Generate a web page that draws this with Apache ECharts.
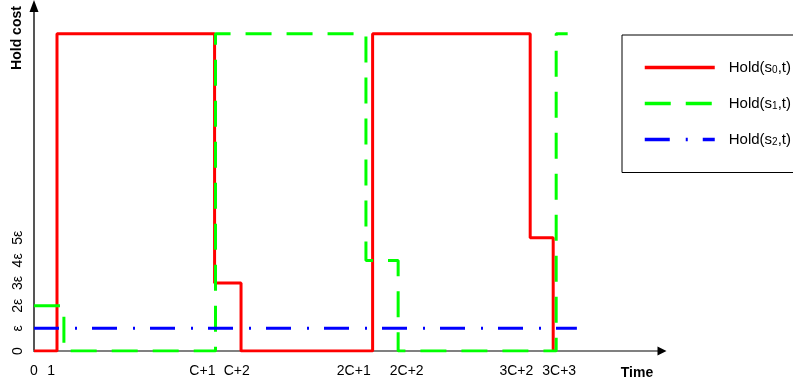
<!DOCTYPE html>
<html>
<head>
<meta charset="utf-8">
<script src="https://cdn.jsdelivr.net/npm/echarts@6/dist/echarts.min.js"></script>
<style>
  html, body { margin: 0; padding: 0; background: #fff; }
  #chart { width: 793px; height: 389px; }
</style>
</head>
<body>
<div id="chart"></div>
<script>
// Hold cost of the three states over time (cost in units of ε, time on a schematic scale)
const seriesNames = ['Hold(s0,t)', 'Hold(s1,t)', 'Hold(s2,t)'];

// change points (time) and the cost held from that point on
const s0Times = [0, 1.0, 7.85, 9.0, 14.72, 21.57, 22.57];
const s0Cost  = [0, 14, 3, 0, 14, 5, 0];

const s1Times = [0, 1.30, 7.89, 14.43, 15.83, 22.70, 23.2];
const s1Cost  = [2, 0, 14, 4, 0, 14, 14];

const s2Times = [0, 23.6];
const s2Cost  = [1, 1];

// axis labels
const xTickPositions = [0, 0.74, 7.32, 8.81, 13.9, 16.2, 20.97, 22.83];
const xTickLabels = ['0', '1', 'C+1', 'C+2', '2C+1', '2C+2', '3C+2', '3C+3'];
const yTickValues = [0, 1, 2, 3, 4, 5];
const yTickLabels = ['0', 'ε', '2ε', '3ε', '4ε', '5ε'];

const X_MAX = 27.3;
const Y_MAX = 15.23;
const FONT = '"Liberation Sans", Arial, sans-serif';

const zip = (xs, ys) => xs.map((x, i) => [x, ys[i]]);

const chart = echarts.init(document.getElementById('chart'), null, { renderer: 'canvas' });

const baseAxis = {
  type: 'value',
  splitLine: { show: false },
  axisTick: { show: false }
};

chart.setOption({
  animation: false,
  backgroundColor: '#fff',
  grid: { left: 34, right: 131, top: 6, bottom: 38, containLabel: false },
  xAxis: [
    Object.assign({}, baseAxis, {
      min: 0, max: X_MAX, position: 'bottom',
      axisLine: { show: true, onZero: false, lineStyle: { color: '#808080', width: 2 } },
      axisLabel: {
        customValues: xTickPositions,
        formatter: v => xTickLabels[xTickPositions.indexOf(v)],
        margin: 13, fontSize: 14, color: '#000', fontFamily: FONT
      }
    }),
    Object.assign({}, baseAxis, {
      min: 0, max: X_MAX, position: 'bottom',
      axisLine: { show: true, onZero: false, symbol: ['none', 'triangle'], symbolSize: [9, 9],
                  lineStyle: { color: '#000', width: 0 } },
      axisLabel: { show: false }
    })
  ],
  yAxis: [
    Object.assign({}, baseAxis, {
      min: 0, max: Y_MAX, position: 'left',
      axisLine: { show: true, onZero: false, lineStyle: { color: '#555', width: 2 } },
      axisLabel: {
        customValues: yTickValues,
        formatter: v => yTickLabels[yTickValues.indexOf(v)],
        rotate: 90, margin: 9, fontSize: 14, color: '#000', fontFamily: FONT
      }
    }),
    Object.assign({}, baseAxis, {
      min: 0, max: Y_MAX, position: 'left',
      axisLine: { show: true, onZero: false, symbol: ['none', 'triangle'], symbolSize: [9, 12],
                  lineStyle: { color: '#000', width: 0 } },
      axisLabel: { show: false }
    })
  ],
  legend: {
    orient: 'vertical',
    left: 622, top: 35,
    padding: [25, 14, 25, 21],
    itemGap: 20.5, itemWidth: 70, itemHeight: 14,
    // line-only keys: the point marker of each key is made invisible
    itemStyle: { color: 'rgba(0,0,0,0)', borderWidth: 0, opacity: 0 },
    lineStyle: { width: 3.5 },
    borderColor: '#000', borderWidth: 1, borderRadius: 0,
    selectedMode: false,
    data: seriesNames,
    formatter: name => name.replace(/s(\d)/, 's{sub|$1}'),
    textStyle: {
      fontFamily: FONT, fontSize: 15, color: '#000', lineHeight: 14,
      padding: [0, 0, 0, 9],
      rich: { sub: { fontFamily: FONT, fontSize: 10, color: '#000', padding: [6, 0, 0, 0] } }
    }
  },
  series: [
    {
      name: seriesNames[0], type: 'line', step: 'end', symbol: 'none',
      data: zip(s0Times, s0Cost),
      lineStyle: { color: '#ff0000', width: 3, type: 'solid' },
      itemStyle: { color: '#ff0000' }, z: 2
    },
    {
      name: seriesNames[1], type: 'line', step: 'end', symbol: 'none',
      data: zip(s1Times, s1Cost),
      lineStyle: { color: '#00ff00', width: 3, type: [26, 15], cap: 'butt' },
      itemStyle: { color: '#00ff00' }, z: 3
    },
    {
      name: seriesNames[2], type: 'line', symbol: 'none',
      data: zip(s2Times, s2Cost),
      lineStyle: { color: '#0000ff', width: 3, type: [25, 16, 2, 15], cap: 'butt' },
      itemStyle: { color: '#0000ff' }, z: 4
    }
  ],
  graphic: [
    { type: 'text', x: 17, y: 38, rotation: Math.PI / 2,
      style: { text: 'Hold cost', font: 'bold 14px ' + FONT, fill: '#000', align: 'center', verticalAlign: 'middle' } },
    { type: 'text', x: 637, y: 373,
      style: { text: 'Time', font: 'bold 14px ' + FONT, fill: '#000', align: 'center', verticalAlign: 'middle' } }
  ]
});
</script>
</body>
</html>
